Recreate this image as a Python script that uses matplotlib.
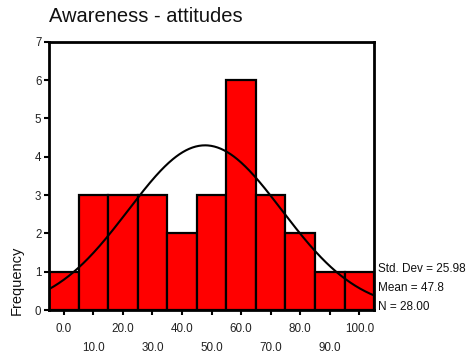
import numpy as np
import matplotlib
matplotlib.use("Agg")
import matplotlib.pyplot as plt

# Histogram of awareness-attitude scores, bins of width 10 centred on 0..100
bin_centers = [0, 10, 20, 30, 40, 50, 60, 70, 80, 90, 100]
frequencies = [1, 3, 3, 3, 2, 3, 6, 3, 2, 1, 1]
tick_labels = ["0.0", "10.0", "20.0", "30.0", "40.0", "50.0",
               "60.0", "70.0", "80.0", "90.0", "100.0"]
std_dev = 25.98
mean = 47.8
n_total = 28
bin_width = 10

plt.rcParams["font.family"] = ["Liberation Sans", "DejaVu Sans"]

fig = plt.figure(figsize=(4.67, 3.58), dpi=100)
ax = fig.add_axes([0.105, 0.134, 0.696, 0.749])

ax.bar(bin_centers, frequencies, width=bin_width, color="#ff0000",
       edgecolor="black", linewidth=1.6, align="center", zorder=2)

# Fitted normal curve scaled to counts
xs = np.linspace(-5, 105, 400)
ys = n_total * bin_width * np.exp(-0.5 * ((xs - mean) / std_dev) ** 2) / (std_dev * np.sqrt(2 * np.pi))
ax.plot(xs, ys, color="black", linewidth=1.5, zorder=3)

ax.set_xlim(-5, 105)
ax.set_ylim(0, 7)
ax.set_yticks(range(0, 8))
ax.set_yticklabels([str(i) for i in range(0, 8)], fontsize=8.3, color="#222222")
ax.set_xticks(bin_centers)
ax.set_xticklabels([])
for c, lab in zip(bin_centers, tick_labels):
    dy = -0.072 if c % 20 == 0 else -0.142
    ax.text(c, dy, lab, transform=ax.get_xaxis_transform(), ha="center",
            va="center", fontsize=8.4, color="#222222")

for s in ax.spines.values():
    s.set_linewidth(2)
ax.tick_params(axis="both", direction="out", length=3.5, width=1.5, pad=2)

fig.text(49 / 467, 1 - 17 / 358, "Awareness - attitudes", fontsize=14.5,
         ha="left", va="center", color="#111111")
fig.text(17 / 467, 1 - 280 / 358, "Frequency", fontsize=10.5, rotation=90,
         ha="center", va="center", color="#111111")

stats = [f"Std. Dev = {std_dev:.2f}", f"Mean = {mean:.1f}", f"N = {n_total:.2f}"]
for i, s in enumerate(stats):
    fig.text(378 / 467, 1 - (269 + 19 * i) / 358, s, fontsize=8.5,
             ha="left", va="center", color="#111111")

fig.savefig("out.png", dpi=100)
